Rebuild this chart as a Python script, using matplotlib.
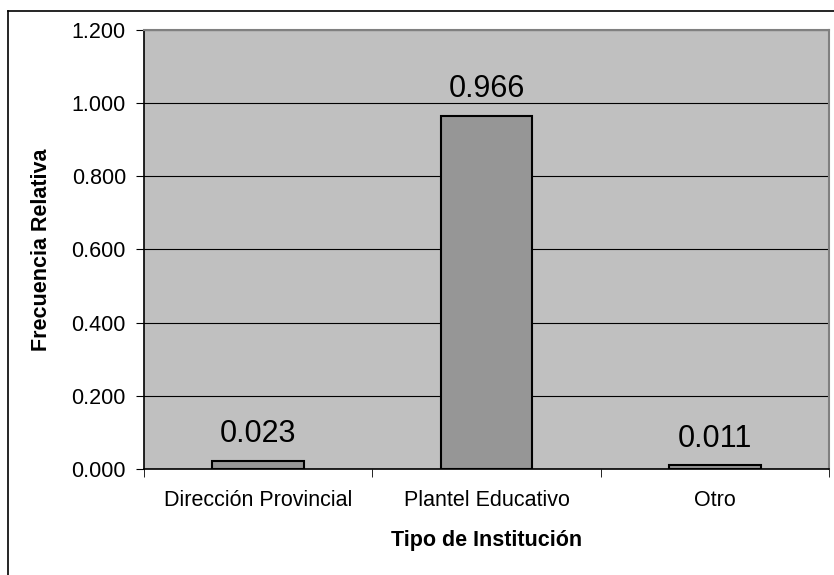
import matplotlib
matplotlib.use("Agg")
import matplotlib.pyplot as plt
from matplotlib.lines import Line2D

categories = ["Dirección Provincial", "Plantel Educativo", "Otro"]
values = [0.023, 0.966, 0.011]
y_ticks = [0.0, 0.2, 0.4, 0.6, 0.8, 1.0, 1.2]

plt.rcParams["font.family"] = ["Liberation Sans", "DejaVu Sans"]

fig = plt.figure(figsize=(8.34, 5.75), dpi=100)
ax = fig.add_axes([144 / 834, 1 - 469 / 575, 685 / 834, 439 / 575])

ax.set_facecolor("#c0c0c0")
x = list(range(len(categories)))
ax.bar(x, values, width=0.4, color="#969696", edgecolor="black", linewidth=1.5, zorder=3)

for xi, v in zip(x, values):
    ax.annotate(f"{v:.3f}", (xi, v), xytext=(0, 8), textcoords="offset points",
                ha="center", va="bottom", fontsize=22)

ax.set_xlim(-0.5, len(categories) - 0.5)
ax.set_ylim(0, 1.2)
ax.set_yticks(y_ticks)
ax.set_yticklabels([f"{t:.3f}" for t in y_ticks], fontsize=15.5)
ax.yaxis.grid(True, color="black", linewidth=0.8, zorder=1)
ax.set_axisbelow(True)

# categories labelled at centres, tick marks at the boundaries
ax.set_xticks(x)
ax.set_xticklabels(categories, fontsize=15.5)
ax.tick_params(axis="x", length=0, pad=15)
ax.set_xticks([i - 0.5 for i in range(len(categories) + 1)], minor=True)
ax.tick_params(axis="x", which="minor", length=6, color="black")
ax.tick_params(axis="y", length=6, color="black", pad=7)

for side in ["top", "right"]:
    ax.spines[side].set_color("#808080")
    ax.spines[side].set_linewidth(1.5)
for side in ["left", "bottom"]:
    ax.spines[side].set_color("black")
    ax.spines[side].set_linewidth(1.2)

ax.set_xlabel("Tipo de Institución", fontsize=15.5, fontweight="bold", labelpad=14)
ax.set_ylabel("Frecuencia Relativa", fontsize=15.5, fontweight="bold", labelpad=14)

# chart frame (partly outside the picture)
top = 1 - 11 / 575
left = 8 / 834
fig.add_artist(Line2D([left, 1.0], [top, top], color="black", linewidth=1.2))
fig.add_artist(Line2D([left, left], [0, top], color="black", linewidth=1.2))

fig.savefig("out.png", dpi=100)
